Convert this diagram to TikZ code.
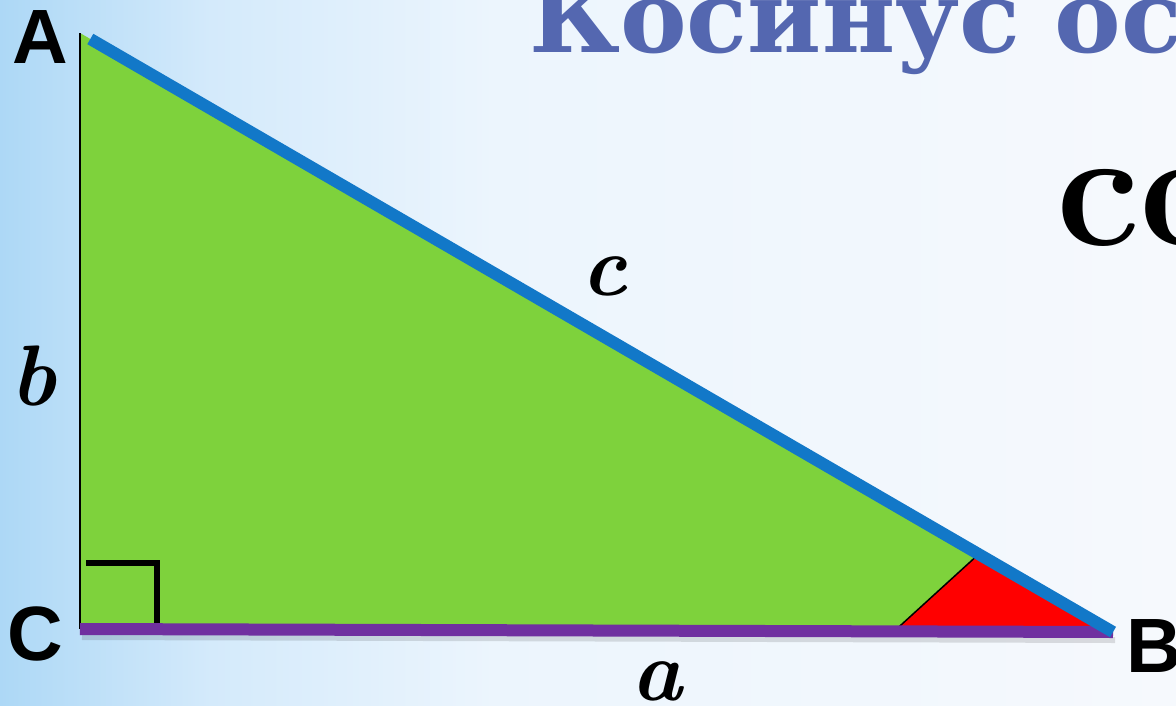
\documentclass[tikz,border=0pt]{standalone}
\usepackage{fontspec}
\usetikzlibrary{calc}
\newfontfamily\labsans{Liberation Sans}
\newfontfamily\titleserif{DejaVu Serif}
\definecolor{bgA}{RGB}{173,216,246}
\definecolor{bgB}{RGB}{212,234,251}
\definecolor{bgC}{RGB}{236,245,253}
\definecolor{bgD}{RGB}{246,249,253}
\definecolor{trigreen}{RGB}{126,210,60}
\definecolor{hypblue}{RGB}{18,120,200}
\definecolor{basepurple}{RGB}{112,48,160}
\definecolor{titleblue}{RGB}{84,103,176}
\pgfdeclarehorizontalshading{bgshade}{100bp}{color(0bp)=(bgA); color(25bp)=(bgA); color(34bp)=(bgB); color(46bp)=(bgC); color(75bp)=(bgD); color(100bp)=(bgD)}
\tikzset{
  vlabel/.style={anchor=base west, inner sep=0pt, font=\labsans\bfseries\fontsize{77}{77}\selectfont},
  slabel/.style={anchor=base west, inner sep=0pt, font=\bfseries\itshape\fontsize{86}{86}\selectfont},
  sideline/.style={line width=12pt, line cap=butt},
}
\begin{document}
\begin{tikzpicture}[x=1pt,y=-1pt]
\useasboundingbox (0,0) rectangle (1176,705);
\clip (0,0) rectangle (1176,705);
\shade[shading=bgshade] (0,0) rectangle (1176,705);
% vertices
\coordinate (A) at (80,33);
\coordinate (C) at (80,629);
\coordinate (B) at (1113,632);
\coordinate (A2) at ($(A)!0.01!(B)$);
\coordinate (R1) at ($(C)!0.788!(B)$);
\coordinate (R2) at ($(A)!0.87!(B)$);
\coordinate (M1) at (86,563);
\coordinate (M2) at (157,563);
\coordinate (M3) at (157,626);
% triangle
\fill[trigreen] (A) -- (C) -- (B) -- cycle;
\draw[line width=2pt] (A) -- (C);
\fill[red] (R1) -- (R2) -- (B) -- cycle;
\draw[line width=1.5pt] (R1) -- (R2);
\draw[line width=6pt] (M1) -- (M2) -- (M3);
% shadow of base
\draw[line width=6pt, black, opacity=0.12] ($(C)+(2,8)$) -- ($(B)+(2,8)$);
\draw[sideline, basepurple] (C) -- (B);
\draw[sideline, hypblue] (A2) -- (B);
% labels
\node[vlabel] (lA) at (12,63) {A};
\node[vlabel] (lC) at (7,660) {C};
\node[vlabel] (lB) at (1126,672) {B};
\node[slabel] (lc) at (581,295) {c};
\node[slabel] (lb) at (10,405) {b};
\node[slabel] (la) at (631,700) {a};
\node[anchor=base west, inner sep=0pt, text=titleblue, font=\titleserif\bfseries\fontsize{100}{100}\selectfont] (title) at (529,52) {Косинус ос};
\node[anchor=base west, inner sep=0pt, font=\bfseries\fontsize{168}{168}\selectfont] (cos) at (1056,245) {co};
\end{tikzpicture}
\end{document}
